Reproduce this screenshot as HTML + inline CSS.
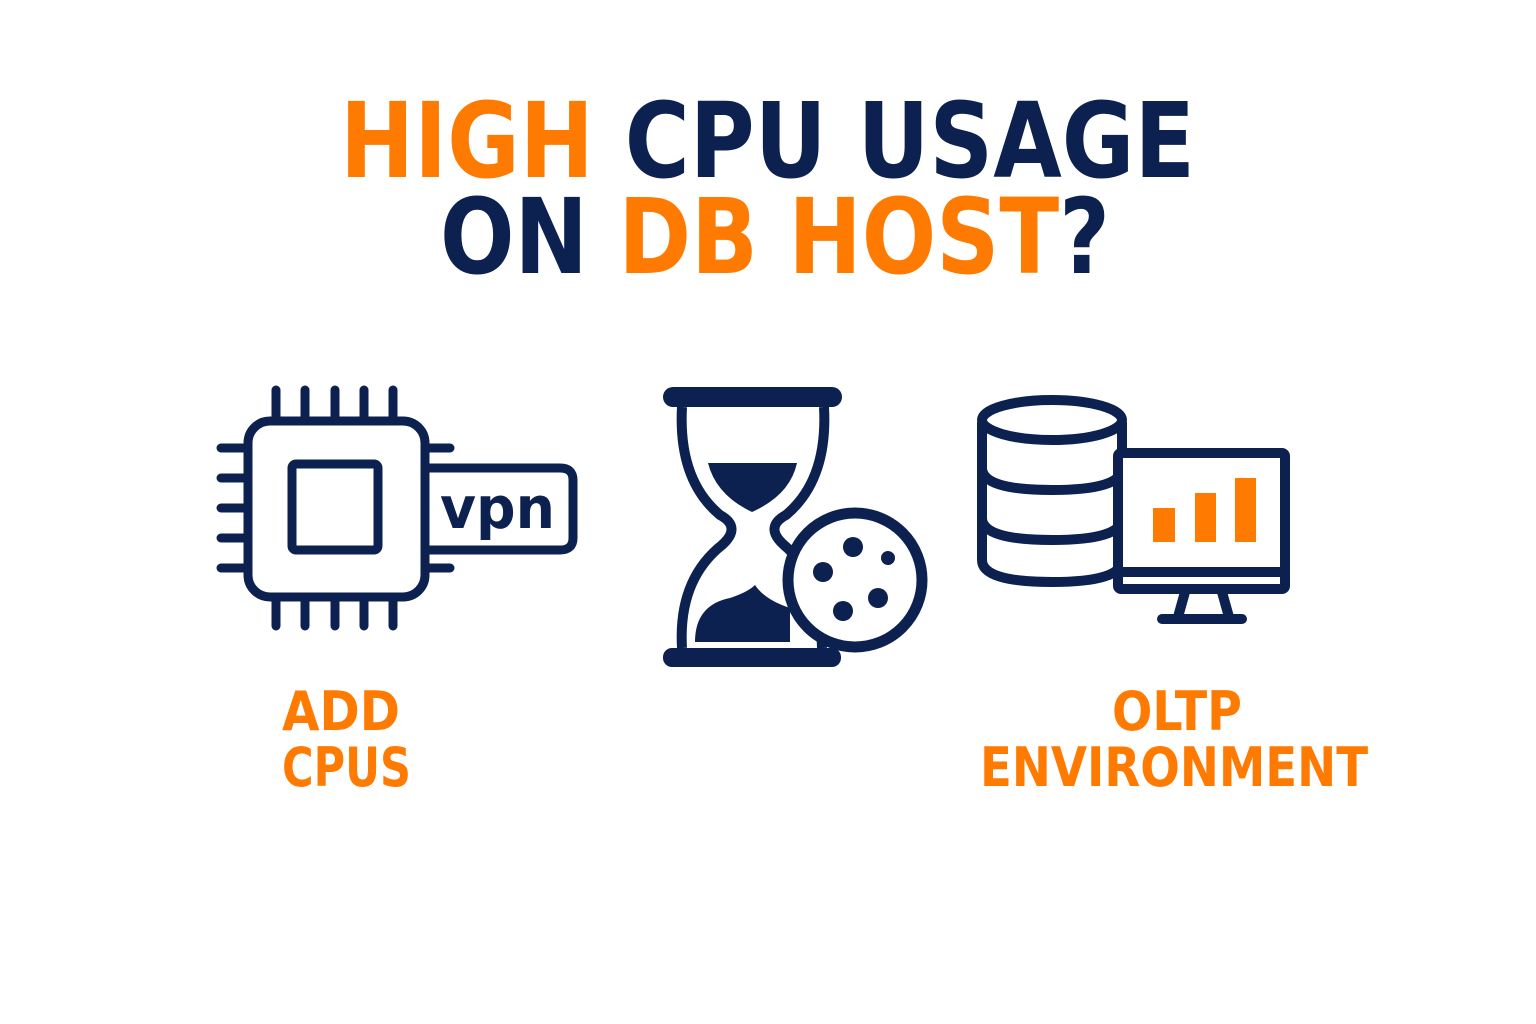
<!DOCTYPE html>
<html><head><meta charset="utf-8"><style>
html,body{margin:0;padding:0;background:#fff;}
svg{display:block;}
text{font-family:"DejaVu Sans","Liberation Sans",sans-serif;font-weight:bold;}
</style></head><body>
<svg width="1536" height="1024" viewBox="0 0 1536 1024" xmlns="http://www.w3.org/2000/svg">
<rect width="1536" height="1024" fill="#fff"/>
<text x="340" y="177" font-size="104" textLength="855" lengthAdjust="spacingAndGlyphs"><tspan fill="#ff7a00">HIGH</tspan><tspan fill="#0c2150"> CPU USAGE</tspan></text>
<text x="440" y="273" font-size="104" textLength="670" lengthAdjust="spacingAndGlyphs"><tspan fill="#0c2150">ON </tspan><tspan fill="#ff7a00">DB HOST</tspan><tspan fill="#0c2150">?</tspan></text>

<g fill="#ff7a00" font-size="54">
<text x="282" y="730" textLength="118" lengthAdjust="spacingAndGlyphs">ADD</text>
<text x="282" y="786" textLength="129" lengthAdjust="spacingAndGlyphs">CPUS</text>
<text x="1112" y="730" textLength="130" lengthAdjust="spacingAndGlyphs">OLTP</text>
<text x="980" y="786" textLength="388" lengthAdjust="spacingAndGlyphs">ENVIRONMENT</text>
</g>

<!-- CPU -->
<g stroke="#0c2150" stroke-width="9" fill="none" stroke-linecap="round">
<path d="M276 390V418M305 390V418M335 390V418M364 390V418M393 390V418"/>
<path d="M276 600V626M305 600V626M335 600V626M364 600V626M393 600V626"/>
<path d="M221 448H245M221 478H245M221 508H245M221 538H245M221 568H245"/>
<path d="M428 448H450M428 568H450"/>
<rect x="248" y="421" width="177" height="176" rx="22" fill="#fff"/>
<rect x="292" y="464" width="86" height="86" rx="4"/>
<path d="M428 468H560Q573 468 573 480V538Q573 550 560 550H428"/>
</g>
<text x="440" y="528" font-size="58" fill="#0c2150" textLength="115" lengthAdjust="spacingAndGlyphs">vpn</text>

<!-- Hourglass -->
<g fill="#0c2150">
<rect x="663" y="387" width="179" height="20" rx="10"/>
<rect x="663" y="648" width="178" height="19" rx="9"/>
<path d="M708 463H797Q790 495 752 512Q716 495 708 463Z"/>
<path d="M695 642Q695 605 730 598Q748 592 755 585Q765 600 790 608L790 642Z"/>
</g>
<path d="M682 407Q678 480 720 515Q742 527 722 545Q678 580 682 648M824 407Q828 480 786 515Q764 527 784 545Q820 575 822 648" stroke="#0c2150" stroke-width="10" fill="none"/>
<circle cx="855" cy="580" r="67" fill="#fff" stroke="#0c2150" stroke-width="11"/>
<g fill="#0c2150">
<circle cx="853" cy="547" r="10"/><circle cx="888" cy="558" r="7"/><circle cx="823" cy="572" r="10"/><circle cx="878" cy="598" r="10"/><circle cx="843" cy="611" r="10"/>
</g>

<!-- Database -->
<g stroke="#0c2150" stroke-width="10" fill="#fff">
<path d="M982 422V560Q982 582 1052 582Q1122 582 1122 560V422"/>
<ellipse cx="1052" cy="420" rx="70" ry="20"/>
<path d="M982 468Q982 490 1052 490Q1122 490 1122 468" fill="none"/>
<path d="M982 518Q982 540 1052 540Q1122 540 1122 518" fill="none"/>
<rect x="1118" y="453" width="167" height="136" rx="3"/>
<path d="M1120 572H1283" fill="none"/>
<path d="M1185 592L1178 617M1222 592L1229 617" fill="none"/>
<path d="M1162 619H1242" stroke-linecap="round"/>
</g>
<g fill="#ff7a00">
<rect x="1153" y="508" width="22" height="34"/>
<rect x="1195" y="493" width="21" height="49"/>
<rect x="1235" y="478" width="21" height="64"/>
</g>
</svg>
</body></html>
